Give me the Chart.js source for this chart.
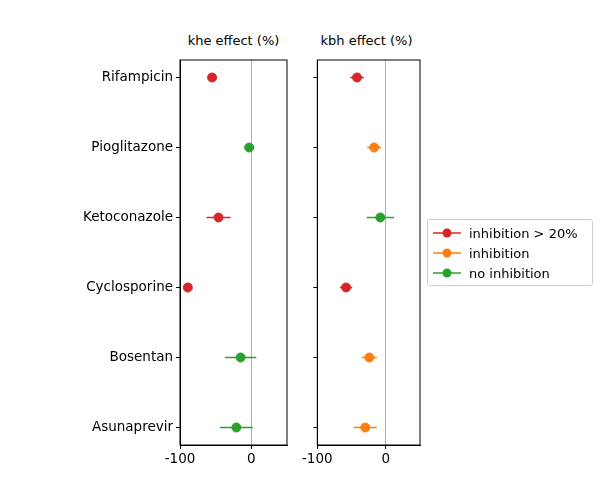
<!DOCTYPE html>
<html lang="en">
<head>
<meta charset="utf-8" />
<title>khe / kbh effect</title>
<script src="https://cdn.jsdelivr.net/npm/chart.js@4/dist/chart.umd.min.js"></script>
<style>
  body { margin: 0; width: 600px; height: 500px; position: relative; background: #fff; font-family: "DejaVu Sans", sans-serif; }
  canvas { position: absolute; top: 0; }
  .ttl { position: absolute; top: 33px; font-size: 13px; color: #000; text-align: center; width: 107px; }
  #legend { position: absolute; left: 427px; top: 219px; width: 166px; height: 67px; border: 1px solid #ccc; border-radius: 3px; font-size: 13px; padding-top: 3px; box-sizing: border-box; }
  .row { display: flex; align-items: center; height: 20px; padding-left: 5px; }
  .row svg { margin-right: 8px; }
</style>
</head>
<body>
<div class="ttl" style="left:180px">khe effect (%)</div>
<div class="ttl" style="left:313px">kbh effect (%)</div>
<canvas id="left" width="295" height="500" style="left:0;width:295px;height:500px"></canvas>
<canvas id="right" width="128" height="500" style="left:300px;width:128px;height:500px"></canvas>
<div id="legend"></div>
<script>
// Data (bottom to top)
const drugs = ["Asunaprevir", "Bosentan", "Cyclosporine", "Ketoconazole", "Pioglitazone", "Rifampicin"];
const kheValue = [-21, -15, -89, -46, -3, -55];
const kheErr   = [23, 22, 2, 17, 7, 3];
const kheClass = [2, 2, 0, 0, 2, 0];
const kbhValue = [-30, -24, -58, -8, -17, -42];
const kbhErr   = [17, 11, 9, 20, 10, 10];
const kbhClass = [1, 1, 0, 2, 1, 0];
const classNames = ["inhibition > 20%", "inhibition", "no inhibition"];
const classColors = ["#d62728", "#ff7f0e", "#2ca02c"];

const errorBars = {
  id: "errorBars",
  afterDatasetsDraw(chart) {
    const { ctx, scales: { x, y } } = chart;
    chart.data.datasets.forEach(ds => {
      ctx.save();
      ctx.strokeStyle = ds.backgroundColor;
      ctx.lineWidth = 1.5;
      ds.data.forEach(p => {
        const py = y.getPixelForValue(p.y);
        ctx.beginPath();
        ctx.moveTo(x.getPixelForValue(p.x - p.err), py);
        ctx.lineTo(x.getPixelForValue(p.x + p.err), py);
        ctx.stroke();
      });
      ctx.restore();
    });
  }
};

// full box around the plot area
const frame = {
  id: "frame",
  afterDraw(chart) {
    const { ctx, chartArea: a } = chart;
    ctx.save();
    ctx.strokeStyle = "#000";
    ctx.lineWidth = 1;
    ctx.strokeRect(a.left, a.top, a.right - a.left, a.bottom - a.top);
    ctx.restore();
  }
};

function makeChart(id, values, errs, classes, yWidth, showLabels) {
  const datasets = classNames.map((name, c) => ({
    label: name,
    data: values.map((v, i) => ({ x: v, y: i, err: errs[i], c: classes[i] })).filter(p => p.c === c),
    backgroundColor: classColors[c],
    borderColor: classColors[c],
    pointRadius: 4.5,
    pointHoverRadius: 4.5
  }));
  return new Chart(document.getElementById(id), {
    type: "scatter",
    data: { datasets },
    plugins: [errorBars, frame],
    options: {
      responsive: false,
      animation: false,
      layout: { padding: { top: 60, right: 8 } },
      plugins: { legend: { display: false }, tooltip: { enabled: false } },
      scales: {
        x: {
          type: "linear", min: -100, max: 50,
          afterBuildTicks: s => { s.ticks = [{ value: -100 }, { value: 0 }]; },
          afterFit: s => { s.height = 55; },
          border: { color: "#000" },
          grid: { color: c => c.tick && c.tick.value === 0 ? "#b0b0b0" : "rgba(0,0,0,0)", tickColor: "#000", tickLength: 4 },
          ticks: { color: "#000", font: { family: "DejaVu Sans", size: 13.5 }, padding: 2 }
        },
        y: {
          type: "linear", min: -0.25, max: 5.25,
          afterBuildTicks: s => { s.ticks = drugs.map((d, i) => ({ value: i })); },
          afterFit: s => { s.width = yWidth; },
          border: { color: "#000" },
          grid: { drawOnChartArea: false, tickColor: "#000", tickLength: 4 },
          ticks: {
            color: "#000", font: { family: "DejaVu Sans", size: 13.5 }, padding: 3,
            callback: v => showLabels ? drugs[v] : ""
          }
        }
      }
    }
  });
}

makeChart("left", kheValue, kheErr, kheClass, 180, true);
makeChart("right", kbhValue, kbhErr, kbhClass, 9, false);

const legend = document.getElementById("legend");
classNames.forEach((name, c) => {
  legend.innerHTML += `<div class="row"><svg width="28" height="12"><line x1="0" y1="6" x2="28" y2="6" stroke="${classColors[c]}" stroke-width="1.5"/><circle cx="14" cy="6" r="4.5" fill="${classColors[c]}"/></svg>${name}</div>`;
});
</script>
</body>
</html>
